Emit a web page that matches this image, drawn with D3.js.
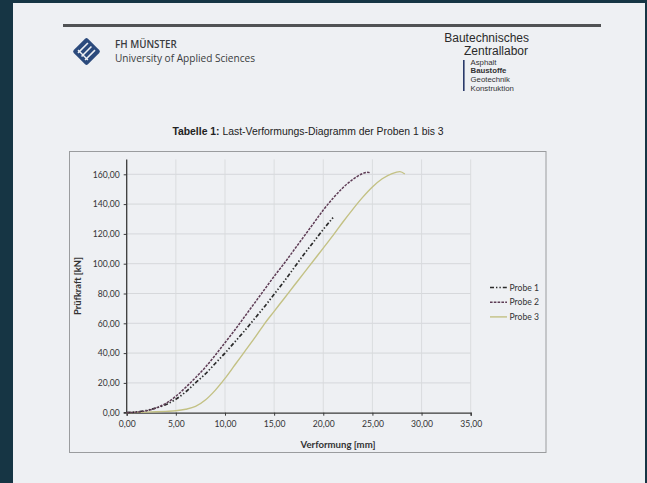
<!DOCTYPE html>
<html><head><meta charset="utf-8">
<script src="https://cdn.jsdelivr.net/npm/d3@7"></script>
<style>
html,body{margin:0;padding:0;background:#163544;}
svg{display:block;}
</style></head>
<body>
<svg id="c" width="647" height="483"></svg>
<script>
// ---- data ----
const seriesNames = ["Probe 1", "Probe 2", "Probe 3"];
const probe1X = [0,1,2,3,4,5,6,7,8,9,10,11,12,13,14,15,16,17,18,19,20,21];
const probe1Y = [0,0.5,1.5,3.2,5.5,9,14,20,26,33,40,47.5,55,63,71,79.5,88,97,106,114.5,123,131];
const probe2X = [0,1,2,3,4,5,6,7,8,9,10,11,12,13,14,15,16,17,18,19,20,21,22,23,24,24.5,24.8];
const probe2Y = [0,0.4,1.3,3.2,6.3,11,17,23.5,30.5,38.5,47,55.5,64.5,73.5,82.5,91.5,100,109,118,127,136,144,151,156.5,160.5,161.3,161];
const probe3X = [0,1,2,3,4,5,6,7,8,9,10,11,12,13,14,15,16,17,18,19,20,21,22,23,24,25,26,27,27.8,28.3];
const probe3Y = [0,0.2,0.4,0.6,0.9,1.3,2.3,4.2,8.5,15,23,32,41,50,59.5,68,76.5,85,93.5,102,110.5,119,128,136.5,144.5,151.5,157,160.5,161.8,160.2];
const yTicks = [0,20,40,60,80,100,120,140,160];
const xTicks = [0,5,10,15,20,25,30,35];
const titleBold = "Tabelle 1:";
const titleRest = " Last-Verformungs-Diagramm der Proben 1 bis 3";
const yLabel = "Prüfkraft [kN]";
const xLabel = "Verformung [mm]";
const labItems = ["Asphalt","Baustoffe","Geotechnik","Konstruktion"];

const svg = d3.select("#c");
const loc = d3.formatLocale({decimal:",",thousands:".",grouping:[3],currency:["","€"]});
const fmt = loc.format(".2f");

// page
svg.append("rect").attr("x",13).attr("y",3).attr("width",632).attr("height",480).attr("fill","#eef0f3");
// top rule
svg.append("rect").attr("x",63).attr("y",24).attr("width",538).attr("height",3).attr("fill","#505254");

// logo (diamond with stripes)
const logo = svg.append("g").attr("transform","translate(86.5,51.5) rotate(45)");
logo.append("rect").attr("x",-10).attr("y",-10).attr("width",20).attr("height",20).attr("rx",2).attr("fill","#2b4a7c");
[-5,0,5].forEach(d=>{
  logo.append("line").attr("x1",d).attr("x2",d).attr("y1",-7).attr("y2",7).attr("stroke","#eef0f3").attr("stroke-width",1.6);
});
logo.append("line").attr("x1",-7).attr("x2",7).attr("y1",5).attr("y2",5).attr("stroke","#eef0f3").attr("stroke-width",1.4);

svg.append("text").attr("x",115).attr("y",48).attr("font-family","Open Sans").attr("font-weight",600)
  .attr("font-size",9.8).attr("fill","#3a3c40").text("FH MÜNSTER");
svg.append("text").attr("x",115).attr("y",61.5).attr("font-family","Open Sans")
  .attr("font-size",10.1).attr("fill","#3a3c40").text("University of Applied Sciences");

svg.append("text").attr("x",529).attr("y",42).attr("text-anchor","end").attr("font-family","Liberation Sans")
  .attr("font-size",12).attr("fill","#2a2a2a").text("Bautechnisches");
svg.append("text").attr("x",528).attr("y",54.5).attr("text-anchor","end").attr("font-family","Liberation Sans")
  .attr("font-size",12).attr("fill","#2a2a2a").text("Zentrallabor");
svg.append("rect").attr("x",463).attr("y",60).attr("width",1.6).attr("height",31).attr("fill","#2b3a6a");
labItems.forEach((t,i)=>{
  svg.append("text").attr("x",470.5).attr("y",64.8+i*8.6).attr("font-family","Liberation Sans")
    .attr("font-size",7.8).attr("font-weight", i===1?"bold":"normal").attr("fill","#333").text(t);
});

// title
const tt = svg.append("text").attr("x",308).attr("y",135).attr("text-anchor","middle")
  .attr("font-family","Liberation Sans").attr("font-size",10.4).attr("fill","#222");
tt.append("tspan").attr("font-weight","bold").text(titleBold);
tt.append("tspan").text(titleRest);

// chart border
svg.append("rect").attr("x",69.5).attr("y",151.5).attr("width",476.5).attr("height",301)
  .attr("fill","none").attr("stroke","#9a9c9e").attr("stroke-width",1);

// scales
const x = d3.scaleLinear().domain([0,35]).range([126.7,470.7]);
const y = d3.scaleLinear().domain([0,170]).range([412.7,159.4]);

// gridlines
const grid = svg.append("g");
yTicks.slice(1).forEach(v=>{
  grid.append("line").attr("x1",x(0)).attr("x2",x(35)).attr("y1",y(v)).attr("y2",y(v))
    .attr("stroke","#d3d5d8").attr("stroke-width",0.9);
});
xTicks.slice(1).forEach(v=>{
  grid.append("line").attr("x1",x(v)).attr("x2",x(v)).attr("y1",y(0)).attr("y2",y(170))
    .attr("stroke","#d8dadd").attr("stroke-width",0.9);
});

// axes
const yAxis = d3.axisLeft(y).tickValues(yTicks).tickFormat(fmt).tickSize(3).tickPadding(4);
const xAxis = d3.axisBottom(x).tickValues(xTicks).tickFormat(fmt).tickSize(3).tickPadding(5);
const ga = svg.append("g").attr("transform",`translate(${x(0)},0)`).call(yAxis);
const gb = svg.append("g").attr("transform",`translate(0,${y(0)})`).call(xAxis);
[ga,gb].forEach(g=>{
  g.select(".domain").attr("stroke","#3a3a3a").attr("stroke-width",1.3);
  g.selectAll(".tick line").attr("stroke","#3a3a3a");
  g.selectAll(".tick text").attr("font-family","Lato").attr("font-size",8.6).attr("fill","#333");
});
ga.select(".domain").attr("d",`M-3,${y(0)}H0V${y(170)}`);

// axis titles
svg.append("text").attr("transform",`translate(81,${y(85)}) rotate(-90)`).attr("text-anchor","middle")
  .attr("font-family","Lato").attr("font-weight","bold").attr("font-size",9.4).attr("fill","#333").text(yLabel);
svg.append("text").attr("x",338).attr("y",448).attr("text-anchor","middle")
  .attr("font-family","Lato").attr("font-weight","bold").attr("font-size",9.6).attr("fill","#333").text(xLabel);

// series
const line = d3.line().x(d=>x(d[0])).y(d=>y(d[1])).curve(d3.curveMonotoneX);
const styles = [
  {stroke:"#2b2b2b", dash:"4,2,1.4,2,1.4,2", w:1.7},
  {stroke:"#5e3c55", dash:"2.6,1.2", w:1.5},
  {stroke:"#c3c184", dash:null, w:1.4}
];
const data = [
  d3.zip(probe1X, probe1Y),
  d3.zip(probe2X, probe2Y),
  d3.zip(probe3X, probe3Y)
];
[2,0,1].forEach(i=>{
  svg.append("path").datum(data[i]).attr("d",line).attr("fill","none")
    .attr("stroke",styles[i].stroke).attr("stroke-width",styles[i].w)
    .attr("stroke-dasharray",styles[i].dash);
});

// legend
seriesNames.forEach((n,i)=>{
  const yy = 287.5 + i*14.7;
  svg.append("line").attr("x1",490).attr("x2",507).attr("y1",yy).attr("y2",yy)
    .attr("stroke",styles[i].stroke).attr("stroke-width",styles[i].w)
    .attr("stroke-dasharray",styles[i].dash);
  svg.append("text").attr("x",509.5).attr("y",yy+3).attr("font-family","Lato")
    .attr("font-size",8.6).attr("fill","#333").text(n);
});
</script>
</body></html>
